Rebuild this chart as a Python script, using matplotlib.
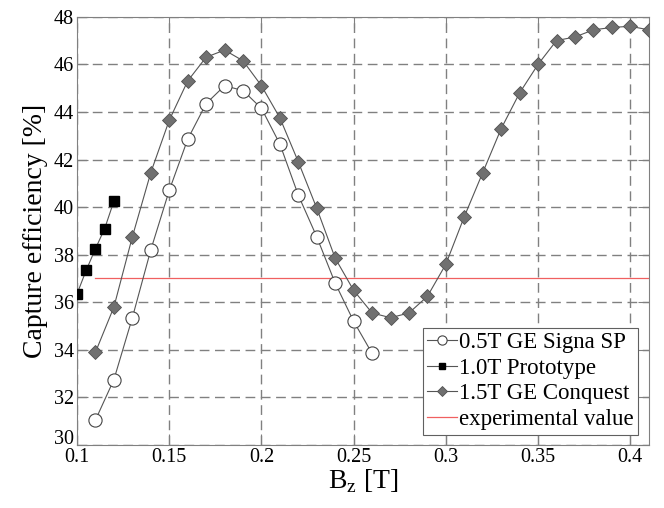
import matplotlib.pyplot as plt
import matplotlib.transforms as mtransforms

plt.rcParams['font.family'] = ['Liberation Serif', 'DejaVu Serif']
plt.rcParams['mathtext.fontset'] = 'custom'
plt.rcParams['mathtext.rm'] = 'Liberation Serif'

# 0.5T GE Signa SP
x_05 = [0.11, 0.12, 0.13, 0.14, 0.15, 0.16, 0.17, 0.18, 0.19, 0.20,
        0.21, 0.22, 0.23, 0.24, 0.25, 0.26]
y_05 = [31.05, 32.75, 35.35, 38.2, 40.7, 42.85, 44.35, 45.1, 44.9, 44.15,
        42.65, 40.5, 38.75, 36.8, 35.2, 33.85]

# 1.0T prototype
x_10 = [0.10, 0.105, 0.11, 0.115, 0.12]
y_10 = [36.35, 37.35, 38.25, 39.1, 40.25]

# 1.5T GE Conquest
x_15 = [0.11, 0.12, 0.13, 0.14, 0.15, 0.16, 0.17, 0.18, 0.19, 0.20,
        0.21, 0.22, 0.23, 0.24, 0.25, 0.26, 0.27, 0.28, 0.29, 0.30,
        0.31, 0.32, 0.33, 0.34, 0.35, 0.36, 0.37, 0.38, 0.39, 0.40, 0.41]
y_15 = [33.9, 35.8, 38.75, 41.45, 43.65, 45.3, 46.3, 46.6, 46.15, 45.1,
        43.75, 41.9, 39.95, 37.85, 36.5, 35.55, 35.35, 35.55, 36.25, 37.6,
        39.6, 41.45, 43.3, 44.8, 46.0, 47.0, 47.15, 47.45, 47.55, 47.6, 47.45]

# experimental value
x_exp = [0.11, 0.41]
y_exp = [37.0, 37.0]

xticks = [0.1, 0.15, 0.2, 0.25, 0.3, 0.35, 0.4]
xticklabels = ['0.1', '0.15', '0.2', '0.25', '0.3', '0.35', '0.4']
yticks = [30, 32, 34, 36, 38, 40, 42, 44, 46, 48]

fig = plt.figure(figsize=(6.64, 5.08), dpi=100)
ax = fig.add_axes([0.116, 0.124, 0.861, 0.843])

ax.plot(x_05, y_05, color='#555555', lw=0.8, marker='o', ms=9.5,
        mfc='white', mec='#444444', mew=0.8, label='0.5T GE Signa SP', zorder=3)
ax.plot(x_10, y_10, color='#555555', lw=0.8, marker='s', ms=7,
        mfc='black', mec='black', label='1.0T Prototype', zorder=3)
ax.plot(x_15, y_15, color='#555555', lw=0.8, marker='D', ms=7,
        mfc='#707070', mec='#505050', mew=0.6, label='1.5T GE Conquest', zorder=3)
ax.plot(x_exp, y_exp, color='#f06060', lw=0.9, label='experimental value', zorder=2)

ax.set_xlim(0.1, 0.41)
ax.set_ylim(30, 48)
ax.set_xticks(xticks)
ax.set_xticklabels(xticklabels)
ax.set_yticks(yticks)
ax.grid(True, linestyle=(0, (7, 4)), color='#808080', lw=1.0)
ax.tick_params(direction='in', labelsize=14.5, color='#808080', top=True, right=True,
               length=8, pad=2)
for sp in ax.spines.values():
    sp.set_color('#808080')

# "30" sits a little higher, as in the original, so it clears "0.1"
lab30 = ax.get_yticklabels()[0]
lab30.set_transform(lab30.get_transform() +
                    mtransforms.ScaledTranslation(0, 6 / 72, fig.dpi_scale_trans))

ax.set_xlabel(r'B$_{\mathrm{z}}$ [T]', fontsize=20, labelpad=0)
ax.set_ylabel('Capture efficiency [%]', fontsize=20, labelpad=4)

leg = ax.legend(loc='lower right', fontsize=16.5, fancybox=False, framealpha=1,
                edgecolor='#606060', handlelength=1.3, handletextpad=0.1,
                borderpad=0.2, labelspacing=0.2, borderaxespad=0.45,
                markerscale=0.7)
leg.get_frame().set_linewidth(0.8)

plt.savefig('out.png', dpi=100)
